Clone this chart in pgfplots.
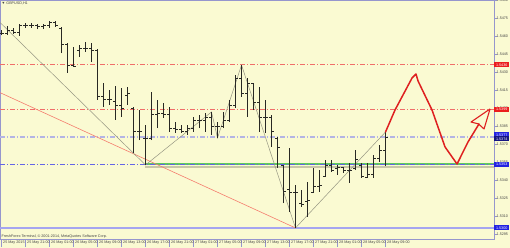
\documentclass[border=0pt]{standalone}
\usepackage{fontspec}
\setmainfont{Liberation Sans}
\usepackage{pgfplots}
\usepackage{pgfplotstable}
\pgfplotsset{compat=1.18}
\definecolor{bgC}{RGB}{250,250,210}
\definecolor{frameC}{RGB}{150,150,205}
\definecolor{barC}{RGB}{40,40,36}
\definecolor{redL}{RGB}{240,110,105}
\definecolor{trendR}{RGB}{245,125,110}
\definecolor{lavL}{RGB}{180,180,228}
\definecolor{blueL}{RGB}{100,100,230}
\definecolor{blueS}{RGB}{165,165,240}
\definecolor{greenL}{RGB}{95,200,95}
\definecolor{shadowL}{RGB}{200,198,168}
\definecolor{zigC}{RGB}{150,150,130}
\definecolor{arrowC}{RGB}{222,32,32}
\definecolor{labC}{RGB}{70,70,70}
\definecolor{boxR}{RGB}{235,30,30}
\definecolor{boxB}{RGB}{35,35,225}
\definecolor{boxN}{RGB}{20,20,130}

\pgfplotstableread{
i O H L C
0 1.54625 1.5465 1.54608 1.54625
1 1.54625 1.54683 1.54608 1.5465
2 1.5465 1.54667 1.54617 1.54633
3 1.54633 1.5470 1.5460 1.54692
4 1.54692 1.54708 1.54667 1.54692
5 1.54692 1.54708 1.54667 1.54692
6 1.54692 1.5470 1.54658 1.54683
7 1.54683 1.5470 1.54658 1.54692
8 1.54692 1.54725 1.54667 1.54717
9 1.54717 1.54725 1.54675 1.54692
10 1.54667 1.54675 1.54458 1.54533
11 1.54533 1.54542 1.54292 1.54358
12 1.54358 1.54508 1.54342 1.5435
13 1.54483 1.54525 1.54425 1.54492
14 1.54492 1.5455 1.54467 1.54492
15 1.54492 1.54542 1.54383 1.54483
16 1.54483 1.54492 1.54067 1.54092
17 1.5410 1.54208 1.54008 1.54075
18 1.54075 1.5415 1.54025 1.54067
19 1.54058 1.54183 1.5390 1.54017
20 1.54017 1.54167 1.53925 1.5400
21 1.54108 1.54175 1.54025 1.54117
22 1.5400 1.54008 1.53625 1.53808
23 1.53808 1.53983 1.53733 1.53808
24 1.5375 1.53858 1.53525 1.53742
25 1.5375 1.54133 1.53733 1.53942
26 1.53942 1.54067 1.53833 1.53958
27 1.53958 1.54042 1.53917 1.53942
28 1.53942 1.54008 1.5380 1.53833
29 1.53833 1.53883 1.53792 1.53817
30 1.53817 1.53858 1.53792 1.53808
31 1.53808 1.53858 1.53775 1.53833
32 1.53833 1.53925 1.5380 1.5390
33 1.5390 1.53942 1.53833 1.5390
34 1.5390 1.53958 1.5380 1.53925
35 1.53925 1.53967 1.53775 1.53842
36 1.53842 1.53883 1.5375 1.5385
37 1.5385 1.53967 1.53833 1.5390
38 1.5390 1.54067 1.53883 1.54025
39 1.54025 1.54275 1.5400 1.5425
40 1.5425 1.54358 1.54092 1.54125
41 1.54125 1.5425 1.53925 1.54208
42 1.54208 1.54208 1.53983 1.54042
43 1.54042 1.54175 1.5380 1.53925
44 1.53925 1.54067 1.53792 1.53917
45 1.53917 1.53942 1.53675 1.53808
46 1.5375 1.53758 1.5350 1.53667
47 1.53517 1.53525 1.53208 1.53308
48 1.53317 1.53667 1.53133 1.533
49 1.53292 1.53358 1.5300 1.53292
50 1.53208 1.53317 1.53175 1.5320
51 1.53217 1.53383 1.53092 1.53233
52 1.533 1.5350 1.53292 1.53342
53 1.53342 1.53483 1.533 1.53358
54 1.53433 1.53567 1.53425 1.53525
55 1.53525 1.53567 1.53467 1.53483
56 1.5350 1.53525 1.53442 1.53508
57 1.53508 1.53508 1.53458 1.53483
58 1.53483 1.53542 1.53375 1.53483
59 1.5350 1.5365 1.53483 1.53567
60 1.53525 1.53542 1.53417 1.53433
61 1.53425 1.53542 1.53417 1.5345
62 1.5345 1.53608 1.53417 1.53583
63 1.53583 1.53692 1.5355 1.53642
64 1.53642 1.5380 1.53517 1.53758
}\bars

\begin{document}
\begin{tikzpicture}
\fill[bgC] (0,0) rectangle (510bp,248bp);
\begin{axis}[
  at={(0,9bp)}, anchor=south west,
  scale only axis, width=494bp, height=239bp,
  xmin=-0.25, xmax=82.08, ymin=1.52908, ymax=1.549,
  axis line style={draw=frameC, line width=0.8bp},
  clip mode=individual,
  xtick=\empty,
  extra x ticks={0,4,8,12,16,20,24,28,32,36,40,44,48,52,56,60,64},
  extra x tick labels={25 May 2015,25 May 21:00,26 May 01:00,26 May 05:00,26 May 09:00,26 May 13:00,26 May 17:00,26 May 21:00,27 May 01:00,27 May 05:00,27 May 09:00,27 May 13:00,27 May 17:00,27 May 21:00,28 May 01:00,28 May 05:00,28 May 09:00},
  extra x tick style={major tick length=8bp, tick style={draw=frameC, line width=0.5bp},
     tick label style={anchor=north west, inner sep=0pt, xshift=1.5bp, yshift=6.6bp}},
  ytick={1.5295,1.5310,1.5325,1.5340,1.5355,1.5370,1.5385,1.5400,1.5415,1.5430,1.5445,1.5460,1.5475,1.5490},
  yticklabels={1.5295,1.5310,1.5325,1.5340,1.5355,1.5370,1.5385,1.5400,1.5415,1.5430,1.5445,1.5460,1.5475,1.5490},
  xtick pos=left, ytick pos=right, yticklabel pos=right,
  tick align=outside, major tick length=2.5bp,
  tick style={draw=frameC, line width=0.5bp},
  ticklabel style={font=\fontsize{3.7bp}{4bp}\selectfont, text=labC},
  yticklabel style={anchor=west, inner sep=0pt, xshift=0bp},
  /pgf/number format/assume math mode=true,
]
% horizontal levels
\addplot[shadowL, line width=2bp] coordinates {(23.9,1.53512) (82.08,1.53512)};
\addplot[greenL, line width=1.8bp] coordinates {(23.9,1.5353) (82.08,1.5353)};
\addplot[blueL, line width=0.6bp, dash pattern=on 5bp off 2bp on 1bp off 2bp] coordinates {(-0.25,1.5353) (82.08,1.5353)};
\addplot[redL, line width=0.6bp, dash pattern=on 5bp off 2bp on 1bp off 2bp] coordinates {(-0.25,1.5436) (82.08,1.5436)};
\addplot[redL, line width=0.6bp, dash pattern=on 5bp off 2bp on 1bp off 2bp] coordinates {(-0.25,1.5399) (82.08,1.5399)};
\addplot[lavL, line width=1.5bp, dash pattern=on 5bp off 2bp on 1bp off 2bp] coordinates {(-0.25,1.5376) (82.08,1.5376)};
\addplot[blueS, line width=1.1bp] coordinates {(-0.25,1.5300) (82.08,1.5300)};
% trend line and zigzag
\addplot[trendR, line width=0.6bp] coordinates {(-0.25,1.54128) (49,1.5300)};
\addplot[zigC, line width=0.5bp] coordinates {(-0.25,1.54713) (24,1.53525) (35,1.53967) (36,1.5375) (40,1.54358) (49,1.5300) (64,1.5380)};
% bars: high-low
\addplot[draw=none, mark=none, error bars/.cd, y dir=plus, y explicit, error mark=none,
  error bar style={draw=barC, line width=1bp}]
  table[x=i, y=L, y error expr=\thisrow{H}-\thisrow{L}] {\bars};
% open ticks
\addplot[draw=none, mark=none, error bars/.cd, x dir=minus, x fixed=0.38, error mark=none,
  error bar style={draw=barC, line width=0.9bp}]
  table[x=i, y=O] {\bars};
% close ticks
\addplot[draw=none, mark=none, error bars/.cd, x dir=plus, x fixed=0.38, error mark=none,
  error bar style={draw=barC, line width=0.9bp}]
  table[x=i, y=C] {\bars};
% forecast arrow
\addplot[arrowC, line width=1.5bp, line join=round, line cap=round] coordinates {
  (64,1.5380) (65.58,1.53983) (68.42,1.5425) (69.08,1.54283) (69.42,1.54225)
  (71.75,1.53983) (73.92,1.53675) (75.92,1.53533) (77.75,1.53717) (79.58,1.53867)};
\addplot[arrowC, line width=1.1bp, line join=round] coordinates {
  (81.42,1.53992) (78.25,1.53883) (79.5,1.53867) (80.42,1.53825) (81.42,1.53992)};
% labels
\node[anchor=south west, inner sep=0pt, font=\fontsize{3.7bp}{4bp}\selectfont, text=labC]
  at (rel axis cs:0,0) [xshift=1.5bp, yshift=1bp] {FreshForex Terminal, © 2001-2014, MetaQuotes Software Corp.};
\node[anchor=north west, inner sep=0pt, font=\fontsize{3.7bp}{4bp}\selectfont, text=labC]
  at (rel axis cs:0,1) [xshift=1.5bp, yshift=-2bp] {▼ GBPUSD,H1};
\tikzset{pl/.style={anchor=west, inner sep=0.5bp, text=white, font=\fontsize{3.7bp}{4bp}\selectfont, minimum width=15bp, minimum height=5bp}}
\node[pl, fill=boxR] at (axis cs:82.08,1.5436) {1.5436};
\node[pl, fill=boxR] at (axis cs:82.08,1.5399) {1.5399};
\node[pl, fill=boxB] at (axis cs:82.08,1.53775) {1.5377};
\node[pl, fill=boxN] at (axis cs:82.08,1.53742) {1.5374};
\node[pl, fill=boxB] at (axis cs:82.08,1.5353) {1.5353};
\node[pl, fill=boxB] at (axis cs:82.08,1.5300) {1.5300};
\end{axis}
\pgfresetboundingbox
\path[use as bounding box] (0,0) rectangle (510bp,248bp);
\end{tikzpicture}
\end{document}
